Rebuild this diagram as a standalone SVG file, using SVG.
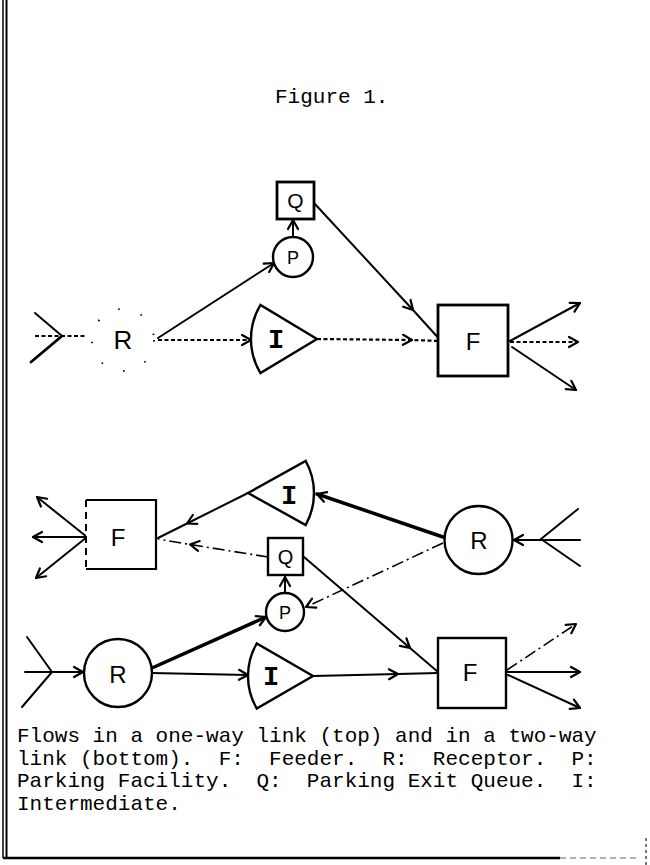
<svg xmlns="http://www.w3.org/2000/svg" width="650" height="865" viewBox="0 0 650 865">
<style>
.ln{fill:none;stroke:#000;stroke-width:2;stroke-linecap:round}
.hv{fill:none;stroke:#000;stroke-width:3.5;stroke-linecap:round}
.dot{fill:none;stroke:#000;stroke-width:2.2;stroke-dasharray:4 2.5}
.dd{fill:none;stroke:#000;stroke-width:1.6;stroke-dasharray:12 4 2 4}
.nd{fill:#fff;stroke:#000;stroke-width:2.4}
.lab{font-family:"Liberation Sans",Arial,sans-serif;fill:#000;text-anchor:middle}
.ilab{font-family:"Liberation Mono","Courier New",monospace;fill:#000;text-anchor:middle;font-weight:bold}
.cap{font-family:"Liberation Mono","Courier New",monospace;font-size:21px;fill:#000;white-space:pre}
.arr{marker-end:url(#ah)}
.mid{marker-mid:url(#ah)}
</style>
<defs>
<marker id="ah" markerUnits="userSpaceOnUse" markerWidth="20" markerHeight="20" refX="0" refY="0" orient="auto" overflow="visible">
<path d="M-9,-5 L0,0 L-9,5" fill="none" stroke="#000" stroke-width="2.2" stroke-linecap="round" stroke-linejoin="round"/>
</marker>
</defs>
<rect width="650" height="865" fill="#fff"/>
<g id="border">
<line x1="3" y1="0" x2="3" y2="858" stroke="#000" stroke-width="1.5"/>
<line x1="6.5" y1="0" x2="6.5" y2="858" stroke="#000" stroke-width="2"/>
<line x1="3" y1="858" x2="560" y2="858" stroke="#000" stroke-width="2.5"/>
<line x1="560" y1="858" x2="640" y2="858" stroke="#000" stroke-width="1" stroke-dasharray="6 4" opacity="0.6"/>
<line x1="646" y1="838" x2="646" y2="865" stroke="#000" stroke-width="1.5" stroke-dasharray="3 3" opacity="0.7"/>
</g>
<text id="title" class="cap" x="275" y="103">Figure 1.</text>
<g id="connectors">
<path class="ln" d="M35,313 L62,336"/>
<path class="hv" d="M31,362 L62,336" style="stroke-width:2.8"/>
<path class="dot" d="M35,336 L85,336"/>
<path class="ln arr" d="M158,338 L274,263"/>
<path class="dot arr" d="M158,340 L251,340"/>
<path class="dot mid" d="M317,339 L412,340 L440,341"/>
<path class="ln mid" d="M314,203 L413,310 L442,342"/>
<path class="ln arr" d="M293,237 L293,220"/>
<path class="ln arr" d="M510,341 L580,303"/>
<path class="dot arr" d="M510,342 L578,342"/>
<path class="ln arr" d="M512,347 L576,390"/>
<path class="ln arr" d="M87,537 L37,497"/>
<path class="ln arr" d="M87,537 L33,537"/>
<path class="ln arr" d="M87,537 L36,578"/>
<path class="ln mid" d="M248,493 L187,523.5 L158,538"/>
<path class="hv arr" d="M443,537 L317,494"/>
<path class="dd mid" d="M268,557 L190,544.5 L158,539"/>
<path class="ln arr" d="M285,593 L285,577"/>
<path class="dd arr" d="M443,543 L306,607"/>
<path class="ln" d="M578,509 L541,539"/>
<path class="ln" d="M580,566 L541,539"/>
<path class="ln arr" d="M580,540 L514,540"/>
<path class="ln mid" d="M304,557 L410,648 L438,672"/>
<path class="ln" d="M27,637 L52,672"/>
<path class="ln" d="M22,707 L52,672"/>
<path class="ln arr" d="M25,672 L83,672"/>
<path class="hv arr" d="M152,668 L266,617"/>
<path class="ln arr" d="M152,673 L248,675"/>
<path class="ln mid" d="M313,676 L398,674 L438,673"/>
<path class="dd arr" d="M507,670 L576,624"/>
<path class="ln arr" d="M507,672 L580,672"/>
<path class="ln arr" d="M508,675 L580,708"/>
</g>
<g id="top-R">
<circle cx="123" cy="340" r="31" fill="none" stroke="#000" stroke-width="1.8" stroke-dasharray="1.5 22"/>
<text class="lab" x="123" y="349" font-size="26">R</text>
</g>
<g id="top-I">
<path class="nd" d="M317,339 L260.4,305 A66,66 0 0,0 260.4,373 Z"/>
<text class="ilab" x="276" y="348" font-size="27">I</text>
</g>
<g id="top-Q">
<rect class="nd" x="277" y="182" width="37" height="37" style="stroke-width:2.8"/>
<text class="lab" x="295.5" y="208" font-size="21">Q</text>
</g>
<g id="top-P">
<circle class="nd" cx="293" cy="257" r="20"/>
<text class="lab" x="293" y="263.5" font-size="18">P</text>
</g>
<g id="top-F">
<rect class="nd" x="438" y="305" width="70" height="71" style="stroke-width:2.8"/>
<text class="lab" x="473" y="349.5" font-size="24">F</text>
</g>
<g id="bot-F1">
<rect x="86" y="500" width="70" height="69" fill="#fff" stroke="none"/>
<path d="M86,500 L156,500 L156,569 L86,569" fill="none" stroke="#000" stroke-width="2.2"/>
<line x1="86" y1="500" x2="86" y2="569" stroke="#000" stroke-width="2" stroke-dasharray="7 5"/>
<text class="lab" x="118" y="545.5" font-size="24">F</text>
</g>
<g id="bot-I1">
<path class="nd" d="M248,493 L305.7,461 A66,66 0 0,1 305.7,525 Z"/>
<text class="ilab" x="289" y="504" font-size="27">I</text>
</g>
<g id="bot-Q">
<rect class="nd" x="268" y="538" width="35" height="37"/>
<text class="lab" x="285.5" y="564" font-size="20">Q</text>
</g>
<g id="bot-P">
<circle class="nd" cx="285" cy="612" r="19"/>
<text class="lab" x="285" y="618.5" font-size="18">P</text>
</g>
<g id="bot-R1">
<circle class="nd" cx="478.5" cy="540" r="34"/>
<text class="lab" x="479" y="549" font-size="24">R</text>
</g>
<g id="bot-R2">
<circle class="nd" cx="118" cy="673" r="34"/>
<text class="lab" x="118" y="683" font-size="24">R</text>
</g>
<g id="bot-I2">
<path class="nd" d="M313,676 L256.7,643.5 A65,65 0 0,0 256.7,708.5 Z"/>
<text class="ilab" x="271" y="685" font-size="27">I</text>
</g>
<g id="bot-F2">
<rect class="nd" x="438" y="638" width="68" height="70"/>
<text class="lab" x="470" y="680.5" font-size="24">F</text>
</g>
<g id="caption">
<text class="cap" xml:space="preserve" x="17" y="742">Flows in a one-way link (top) and in a two-way</text>
<text class="cap" xml:space="preserve" x="17" y="765">link (bottom).  F:  Feeder.  R:  Receptor.  P:</text>
<text class="cap" xml:space="preserve" x="17" y="787">Parking Facility.  Q:  Parking Exit Queue.  I:</text>
<text class="cap" xml:space="preserve" x="17" y="810">Intermediate.</text>
</g>
</svg>
